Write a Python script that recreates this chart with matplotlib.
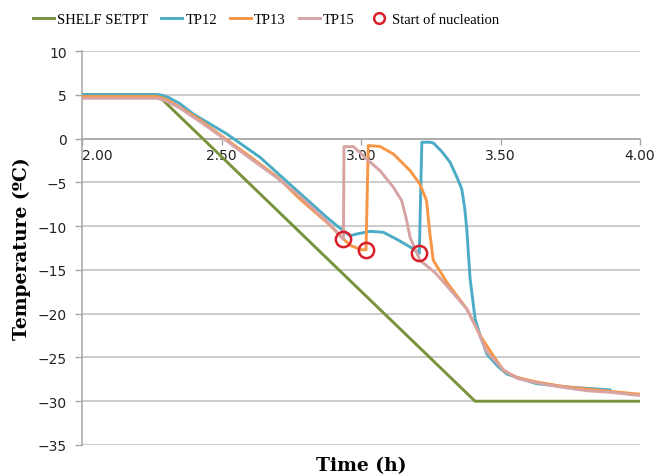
import matplotlib
matplotlib.use("Agg")
import matplotlib.pyplot as plt

# ---- data ----
shelf_t = [2.00, 2.27, 3.409, 4.00]
shelf_T = [5.0, 5.0, -30.0, -30.0]

tp12_t = [2.00, 2.28, 2.31, 2.35, 2.399, 2.519, 2.638, 2.757, 2.877, 2.919, 2.961, 2.985,
          3.032, 3.080, 3.128, 3.188, 3.209, 3.218, 3.247, 3.259, 3.29, 3.319, 3.345,
          3.361, 3.372, 3.379, 3.391, 3.409, 3.427, 3.451, 3.49, 3.523, 3.58, 3.63,
          3.75, 3.892]
tp12_T = [5.0, 5.0, 4.7, 4.0, 2.8, 0.53, -2.14, -5.56, -8.99, -10.1, -11.1, -10.9,
          -10.6, -10.7, -11.5, -12.6, -13.1, -0.42, -0.42, -0.5, -1.5, -2.7, -4.5,
          -5.75, -8.0, -10.3, -16.0, -20.6, -22.5, -24.6, -26.0, -26.9, -27.5, -28.0,
          -28.4, -28.7]

tp13_t = [2.00, 2.27, 2.30, 2.35, 2.42, 2.50, 2.60, 2.70, 2.781, 2.889, 2.925, 2.961,
          3.002, 3.018, 3.026, 3.068, 3.116, 3.176, 3.211, 3.235, 3.247, 3.259,
          3.307, 3.379, 3.427, 3.474, 3.511, 3.56, 3.63, 3.72, 3.809, 3.9, 4.0]
tp13_T = [4.8, 4.8, 4.5, 3.6, 2.2, 0.3, -2.0, -4.4, -6.9, -9.9, -11.1, -12.2,
          -12.7, -12.7, -0.8, -0.9, -1.76, -3.66, -5.2, -7.1, -10.9, -13.9,
          -16.4, -19.45, -22.5, -24.8, -26.5, -27.3, -27.8, -28.3, -28.6, -28.9, -29.2]

tp15_t = [2.00, 2.27, 2.30, 2.35, 2.42, 2.50, 2.60, 2.70, 2.781, 2.889, 2.937, 2.939,
          2.973, 3.020, 3.068, 3.116, 3.146, 3.164, 3.176, 3.194, 3.211, 3.265,
          3.307, 3.379, 3.415, 3.45, 3.51, 3.56, 3.63, 3.72, 3.81, 3.9, 4.0]
tp15_T = [4.6, 4.6, 4.3, 3.5, 2.0, 0.2, -2.2, -4.5, -6.6, -9.8, -11.5, -0.92,
          -0.92, -2.33, -3.66, -5.56, -7.1, -9.4, -11.3, -12.6, -13.9, -15.3,
          -16.8, -19.45, -21.7, -24.3, -26.4, -27.4, -27.9, -28.4, -28.8, -29.0, -29.35]

nuc_t = [2.937, 3.018, 3.209]
nuc_T = [-11.5, -12.7, -13.1]

xticks = [2.00, 2.50, 3.00, 3.50, 4.00]
xticklabels = ["2.00", "2.50", "3.00", "3.50", "4.00"]
yticks = [10, 5, 0, -5, -10, -15, -20, -25, -30, -35]

# ---- figure ----
W, H = 657, 477
fig = plt.figure(figsize=(W / 100, H / 100), dpi=100)
left, right, top, bottom = 82, 640, 52, 446
ax = fig.add_axes([left / W, 1 - bottom / H, (right - left) / W, (bottom - top) / H])

green = "#77933C"
blue = "#4BACC6"
orange = "#F79646"
pink = "#D7A3A3"
red = "#D9202A"
lw = 2.1

ax.plot(shelf_t, shelf_T, color=green, lw=lw, label="SHELF SETPT", zorder=3)
ax.plot(tp12_t, tp12_T, color=blue, lw=lw, label="TP12", zorder=3)
ax.plot(tp13_t, tp13_T, color=orange, lw=lw, label="TP13", zorder=3)
ax.plot(tp15_t, tp15_T, color=pink, lw=lw, label="TP15", zorder=3)
ax.plot(nuc_t, nuc_T, "o", mfc="none", mec=red, ms=11, mew=1.8,
        label="Start of nucleation", zorder=4)

ax.set_xlim(2.0, 4.0)
ax.set_ylim(-35, 10)

gridc = "#BDBDBD"
ax.set_yticks(yticks)
ax.yaxis.grid(True, color=gridc, lw=1.1, zorder=0)
ax.set_axisbelow(True)

for s in ["top", "right"]:
    ax.spines[s].set_visible(False)
ax.spines["left"].set_color("#A6A6A6")
ax.spines["left"].set_linewidth(1.1)
ax.spines["bottom"].set_position(("data", 0))
ax.spines["bottom"].set_color("#A6A6A6")
ax.spines["bottom"].set_linewidth(1.1)

ax.set_xticks(xticks)
ax.set_xticklabels(xticklabels)
ax.tick_params(axis="x", direction="out", length=4, width=1, color="#A6A6A6",
               pad=3, labelsize=10, labelcolor="#222222")
ax.tick_params(axis="y", direction="out", length=5, width=1, color="#A6A6A6",
               pad=6, labelsize=10, labelcolor="#222222")
ax.get_xticklabels()[0].set_horizontalalignment("left")

fig.text((left + right) / 2 / W, 1 - 466 / H, "Time (h)", ha="center", va="center",
         family="DejaVu Serif", weight="bold", fontsize=13.5)
fig.text(22 / W, 1 - ((top + bottom) / 2) / H, "Temperature (ºC)", ha="center",
         va="center", rotation=90, family="DejaVu Serif", weight="bold", fontsize=13.5)

handles, labels = ax.get_legend_handles_labels()
fig.legend(handles, labels, loc="center", bbox_to_anchor=(266 / W, 1 - 20 / H),
           ncol=5, frameon=False, prop={"family": "Liberation Serif", "size": 10.5},
           handlelength=1.45, handletextpad=0.2, columnspacing=0.9, borderpad=0,
           markerscale=0.7)

fig.savefig("out.png", dpi=100)
